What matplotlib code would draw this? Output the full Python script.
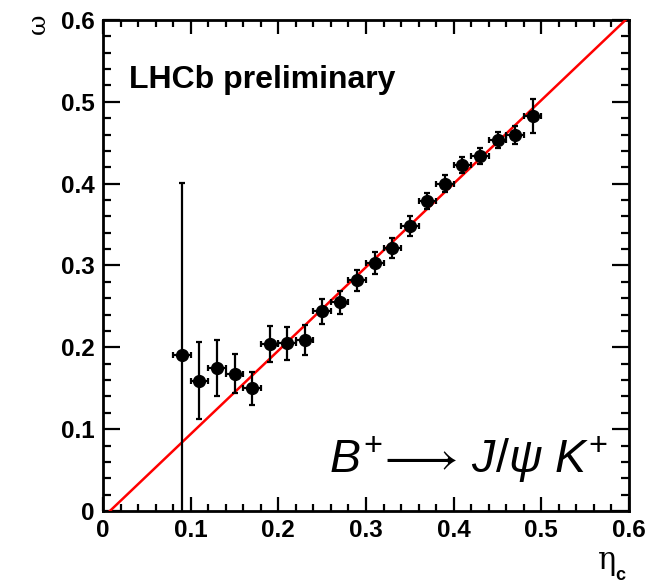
import matplotlib
matplotlib.use("Agg")
import matplotlib.pyplot as plt
from matplotlib.ticker import MultipleLocator
import numpy as np

plt.rcParams['font.family'] = ['Liberation Sans', 'DejaVu Sans']
plt.rcParams['mathtext.fontset'] = 'custom'
plt.rcParams['mathtext.it'] = 'Liberation Sans:italic'
plt.rcParams['mathtext.rm'] = 'Liberation Sans'
plt.rcParams['mathtext.bf'] = 'Liberation Sans:bold'

# Calibration data: measured mistag fraction vs predicted mistag
eta_c = [0.09, 0.11, 0.13, 0.15, 0.17, 0.19, 0.21, 0.23, 0.25, 0.27, 0.29,
         0.31, 0.33, 0.35, 0.37, 0.39, 0.41, 0.43, 0.45, 0.47, 0.49]
omega = [0.191, 0.159, 0.175, 0.168, 0.150, 0.204, 0.205, 0.209, 0.244, 0.255, 0.282,
         0.303, 0.321, 0.348, 0.379, 0.400, 0.423, 0.434, 0.453, 0.459, 0.483]
omega_err = [0.210, 0.047, 0.034, 0.024, 0.020, 0.022, 0.020, 0.018, 0.015, 0.014, 0.013,
             0.013, 0.012, 0.012, 0.010, 0.010, 0.010, 0.010, 0.010, 0.011, 0.021]
eta_err = [0.010] * len(eta_c)

# Linear calibration fit
fit_slope = 1.02
fit_offset = -0.008

fig = plt.figure(figsize=(6.57, 5.85), dpi=100)
ax = fig.add_axes([103/657, 1 - 511/585, 526/657, 491/585])

xfit = np.array([0.0, 0.6])
ax.plot(xfit, fit_offset + fit_slope * xfit, color='#ff0000', lw=1.8, zorder=3)

ax.errorbar(eta_c, omega, yerr=omega_err, xerr=eta_err, fmt='o', color='black',
            ms=8.5, elinewidth=1.6, capsize=2.5, capthick=1.6, zorder=4)

ax.set_xlim(0, 0.6)
ax.set_ylim(0, 0.6)

ax.xaxis.set_major_locator(MultipleLocator(0.1))
ax.xaxis.set_minor_locator(MultipleLocator(0.02))
ax.yaxis.set_major_locator(MultipleLocator(0.1))
ax.yaxis.set_minor_locator(MultipleLocator(0.02))

def fmt(v, pos):
    return '0' if abs(v) < 1e-9 else f'{v:.1f}'
ax.xaxis.set_major_formatter(plt.FuncFormatter(fmt))
ax.yaxis.set_major_formatter(plt.FuncFormatter(fmt))

ax.tick_params(which='both', direction='in', top=True, right=True, width=1.6)
ax.tick_params(axis='y', which='major', length=12)
ax.tick_params(axis='y', which='minor', length=6)
ax.tick_params(axis='x', which='major', length=10)
ax.tick_params(axis='x', which='minor', length=5)
ax.tick_params(which='major', labelsize=17.5, pad=6)
for lab in ax.get_xticklabels() + ax.get_yticklabels():
    lab.set_fontweight('bold')
for sp in ax.spines.values():
    sp.set_linewidth(2)

fig.text(38/657, 1 - 24/585, 'ω', rotation=90, fontsize=18,
         family=['DejaVu Serif'], ha='center', va='center')
fig.text(607/657, 1 - 560/585, 'η', fontsize=22,
         family=['DejaVu Serif'], ha='center', va='center')
fig.text(620/657, 1 - 576/585, 'c', fontsize=13, fontweight='bold',
         ha='center', va='center')

ax.text(0.03, 0.527, 'LHCb preliminary', fontsize=23, fontweight='bold',
        ha='left', va='center')
ax.text(0.258, 0.063, r'$B^{+}\!\longrightarrow\,J/\psi\ K^{+}$',
        fontsize=33.5, ha='left', va='center')

fig.savefig('out.png', dpi=100)
